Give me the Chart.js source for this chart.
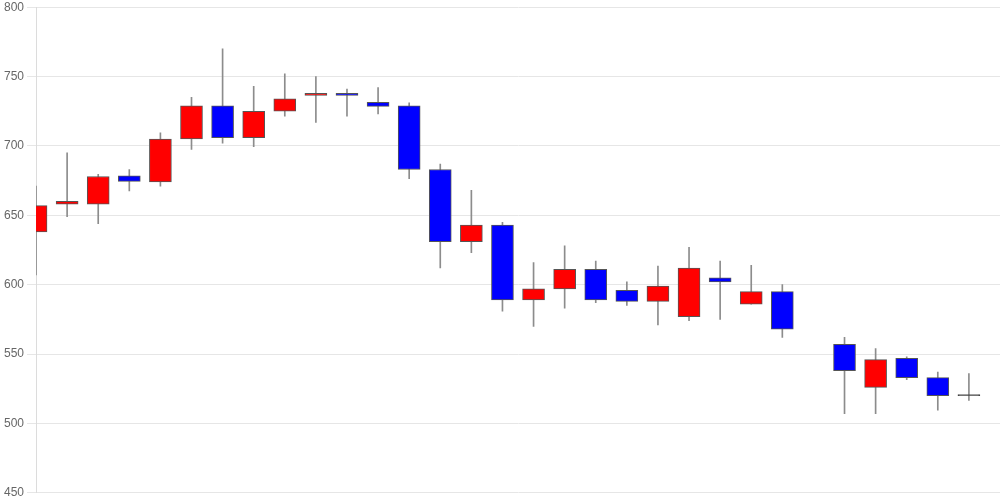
<!DOCTYPE html>
<html>
<head>
<meta charset="utf-8">
<script src="https://cdn.jsdelivr.net/npm/chart.js@4"></script>
<style>
  html, body { margin: 0; padding: 0; background: #fff; }
  #wrap { width: 1000px; height: 500px; position: relative; }
</style>
</head>
<body>
<div id="wrap"><canvas id="c"></canvas></div>
<script>
// daily candles, one slot (index 25) has no trading
const days   = Array.from({ length: 32 }, (_, i) => String(i + 1));
const opens  = [638, 658, 658, 678.5, 674, 705, 729, 706, 725, 736.5, 738, 731.5, 729, 683, 631, 643, 589, 597, 611, 596, 588, 577, 605, 586, 595, null, 557, 526, 547, 533, 520, null];
const highs  = [671, 695, 679.5, 683, 709.5, 735, 770, 743, 752, 750, 741, 742, 731, 687, 668, 645, 616, 628, 617, 602, 613.5, 627, 617, 614, 600, null, 562, 554, 548, 537, 536, null];
const lows   = [607, 649, 644, 667.5, 671, 697.5, 702, 699.5, 721.5, 717, 721.5, 723, 676.5, 612, 623, 581, 570, 583, 587, 585, 571, 574, 575, 586, 562, null, 507, 507, 531.5, 509.5, 516.5, null];
const closes = [657, 660, 678, 674.5, 705, 729, 706, 725, 734, 738, 736.5, 728.5, 683, 631, 643, 589, 597, 611, 589, 588, 599, 612, 602, 595, 568, null, 538, 546, 533, 520, 520, null];

const UP = '#ff0000';
const DOWN = '#0000ff';

const bodies = opens.map((o, i) => (o == null ? null : [o, closes[i]]));
const wicks  = lows.map((l, i) => (l == null ? null : [l, highs[i]]));

new Chart(document.getElementById('c'), {
  type: 'bar',
  data: {
    labels: days,
    datasets: [
      {
        label: 'body',
        data: bodies,
        order: 0,
        grouped: false,
        barThickness: 22,
        minBarLength: 1,
        backgroundColor: (ctx) => {
          const i = ctx.dataIndex;
          if (closes[i] === opens[i]) return '#444';
          return closes[i] > opens[i] ? UP : DOWN;
        },
        borderColor: (ctx) => (closes[ctx.dataIndex] === opens[ctx.dataIndex] ? '#444' : '#555'),
        borderWidth: 1,
        borderSkipped: false,
      },
      {
        label: 'wick',
        data: wicks,
        order: 1,
        grouped: false,
        barThickness: 1,
        backgroundColor: '#8c8c8c',
        borderWidth: 0,
      },
    ],
  },
  options: {
    responsive: true,
    maintainAspectRatio: false,
    animation: false,
    layout: { padding: { left: 1, right: 0, top: 0, bottom: 0 } },
    plugins: {
      legend: { display: false },
      tooltip: { enabled: false },
    },
    scales: {
      x: {
        display: false,
        offset: false,
        grid: { display: false },
      },
      y: {
        min: 450,
        max: 800,
        ticks: {
          stepSize: 50,
          color: '#666',
          padding: 3,
          font: { family: 'Liberation Sans, Arial, sans-serif', size: 12, lineHeight: 0.7 },
        },
        grid: { color: '#e6e6e6', tickLength: 9 },
        border: { color: '#dcdcdc' },
      },
    },
  },
});
</script>
</body>
</html>
